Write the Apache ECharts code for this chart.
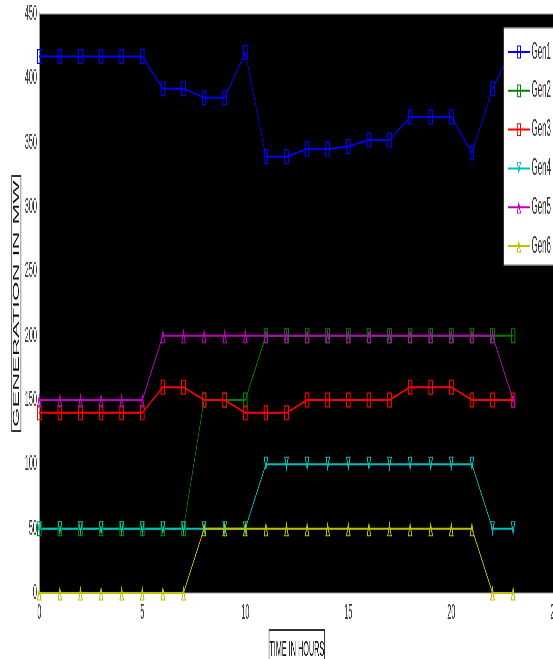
<!DOCTYPE html>
<html>
<head>
<meta charset="utf-8">
<script src="https://cdn.jsdelivr.net/npm/echarts@6/dist/echarts.min.js"></script>
<style>
html,body{margin:0;padding:0;background:#fff;overflow:hidden;width:553px;height:659px;}
#main{width:1676px;height:659px;transform:scaleX(0.329952);transform-origin:0 0;}
</style>
</head>
<body>
<div id="main"></div>
<script>
const hours = [0,1,2,3,4,5,6,7,8,9,10,11,12,13,14,15,16,17,18,19,20,21,22,23];
const seriesNames = ['Gen1','Gen2','Gen3','Gen4','Gen5','Gen6'];
const gen1 = [417,417,417,417,417,417,392,392,385,385,420,339,339,345,345,347,352,352,370,370,370,342,392,424];
const gen2 = [50,50,50,50,50,50,50,50,150,150,150,200,200,200,200,200,200,200,200,200,200,200,200,200];
const gen3 = [140,140,140,140,140,140,160,160,150,150,140,140,140,150,150,150,150,150,160,160,160,150,150,150];
const gen4 = [50,50,50,50,50,50,50,50,50,50,50,100,100,100,100,100,100,100,100,100,100,100,50,50];
const gen5 = [150,150,150,150,150,150,200,200,200,200,200,200,200,200,200,200,200,200,200,200,200,200,200,150];
const gen6 = [0,0,0,0,0,0,0,0,50,50,50,50,50,50,50,50,50,50,50,50,50,50,0,0];
const xTicks = [0,5,10,15,20,25];
const yTicks = [0,50,100,150,200,250,300,350,400,450];

const values = [gen1,gen2,gen3,gen4,gen5,gen6];
const colors = ['#0000ff','#008000','#ff0000','#00bfbf','#bf00bf','#bfbf00'];
// hollow marker outlines (outer path + reversed inner path = hole)
const RECT = 'path://M0,0 H14 V15 H0 Z M3,1.2 V13.8 H11 V1.2 Z';
const TRI = 'path://M7,0 L14,16 L0,16 Z M7,6.86 L3.44,15 L10.56,15 Z';
const symbols = [RECT,RECT,RECT,TRI,TRI,TRI];
const rotates = [0,0,0,180,0,0];
const FONT = "'Liberation Sans',Arial,sans-serif";

const chart = echarts.init(document.getElementById('main'));
chart.setOption({
  animation: false,
  backgroundColor: '#fff',
  grid: {left: 119, top: 14, width: 1561, height: 579, show: true, outerBoundsMode: 'none', containLabel: false,
         backgroundColor: '#000', borderColor: '#999', borderWidth: 1},
  xAxis: {
    type: 'value', min: xTicks[0], max: xTicks[xTicks.length-1], interval: 5,
    axisLine: {show: true, lineStyle: {color: '#ccc', width: 1}},
    axisTick: {show: false}, splitLine: {show: false},
    axisLabel: {fontSize: 22, fontFamily: FONT, color: '#333', margin: 9},
    name: 'TIME IN HOURS', nameLocation: 'middle', nameGap: 30,
    nameTextStyle: {fontSize: 22, fontFamily: FONT, color: '#111', lineHeight: 24,
      borderColor: '#333', borderWidth: 2, padding: [8, 1, 20, 1]}
  },
  yAxis: {
    type: 'value', min: yTicks[0], max: yTicks[yTicks.length-1], interval: 50,
    axisLine: {show: true, lineStyle: {color: '#999', width: 3}},
    axisTick: {show: false}, splitLine: {show: false},
    axisLabel: {fontSize: 22, fontFamily: FONT, color: '#333', margin: 7},
    name: 'GENERATION IN MW', nameLocation: 'middle', nameGap: 47,
    nameTextStyle: {fontSize: 25, fontFamily: FONT, color: '#111', lineHeight: 24,
      borderColor: '#333', borderWidth: 2, padding: [3, 4, 1, 4]}
  },
  legend: {
    orient: 'vertical', left: 1527, top: 28,
    itemWidth: 67, itemHeight: 16, itemGap: 14.8,
    padding: [12, 40, 7, 11],
    backgroundColor: '#fff', borderColor: '#999', borderWidth: 1.5,
    textStyle: {fontSize: 24, fontFamily: FONT, color: '#333'},
    data: seriesNames
  },
  series: seriesNames.map((n, i) => ({
    name: n, type: 'line',
    data: hours.map((h, j) => [h, values[i][j]]),
    symbol: symbols[i], symbolSize: [14, 15], symbolRotate: rotates[i],
    showAllSymbol: true, clip: false,
    itemStyle: {color: colors[i], borderWidth: 0},
    lineStyle: {color: colors[i], width: 2},
    emphasis: {disabled: true}
  }))
});
</script>
</body>
</html>
